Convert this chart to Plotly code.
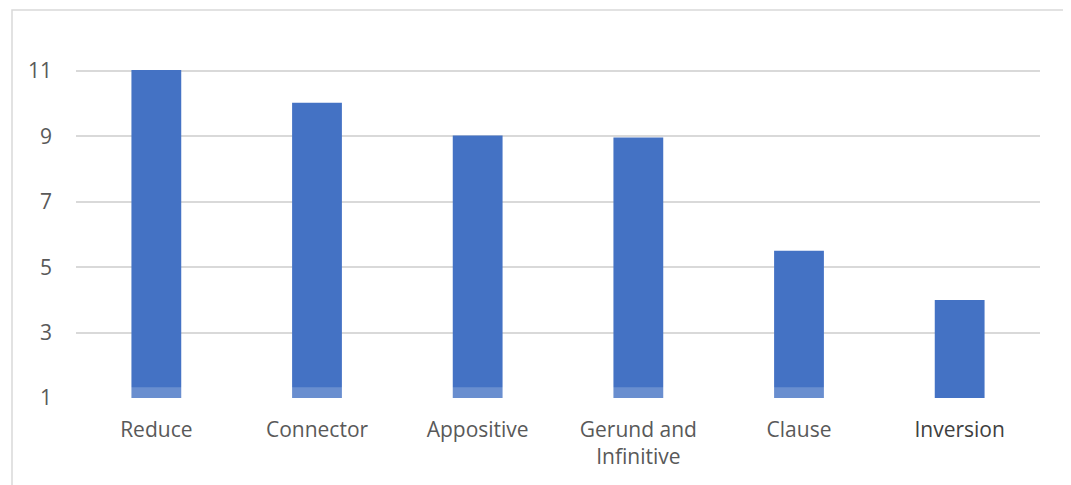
import plotly.graph_objects as go

categories = ["Reduce", "Connector", "Appositive", "Gerund and<br>Infinitive", "Clause", "Inversion"]
values = [11.03, 10.03, 9.03, 8.97, 5.5, 4.0]
y_ticks = [1, 3, 5, 7, 9, 11]

# page body has an 8px margin; work in figure pixel coords
OFF = 8
W, H = 1071 - OFF, 485 - OFF
L, R = 76 - OFF, 1040 - OFF
T, B = 22 - OFF, 398 - OFF
y_min, y_max = 1, 12.5

fig = go.Figure(go.Bar(
    x=categories, y=values, marker=dict(color="#4472C4", line=dict(width=0)),
))

def px_to_paper_x(px):
    return (px - OFF - L) / (R - L)

def px_to_paper_y(py):
    return (B - (py - OFF)) / (B - T)

shapes = [
    dict(type="rect", xref="paper", yref="paper",
         x0=px_to_paper_x(12), x1=px_to_paper_x(1066),
         y0=px_to_paper_y(495), y1=px_to_paper_y(10),
         line=dict(color="#d9d9d9", width=1.5), fillcolor="rgba(0,0,0,0)", layer="below"),
    dict(type="rect", xref="paper", yref="y", x0=0, x1=0.8, y0=1, y1=1.33,
         line=dict(width=0), fillcolor="rgba(255,255,255,0.2)", layer="above"),
]

tick_text = [c if c != "Inversion" else "<span style='color:#404040'>Inversion</span>" for c in categories]

fig.update_layout(
    width=W, height=H,
    margin=dict(l=L, r=W - R, t=T, b=H - B, pad=0),
    paper_bgcolor="white", plot_bgcolor="white",
    bargap=0.69, showlegend=False,
    font=dict(family="Open Sans", size=21, color="#595959"),
    shapes=shapes,
    xaxis=dict(showgrid=False, zeroline=False, showline=False, ticks="",
               tickvals=categories, ticktext=tick_text,
               ticklabelstandoff=17, tickfont=dict(size=21, color="#595959")),
    yaxis=dict(range=[y_min, y_max], tickvals=y_ticks, showgrid=True,
               gridcolor="#d9d9d9", gridwidth=1.5, zeroline=False, showline=False,
               ticks="", ticklabelstandoff=23, tickfont=dict(size=21, color="#595959")),
)

fig.write_html("out.html")
